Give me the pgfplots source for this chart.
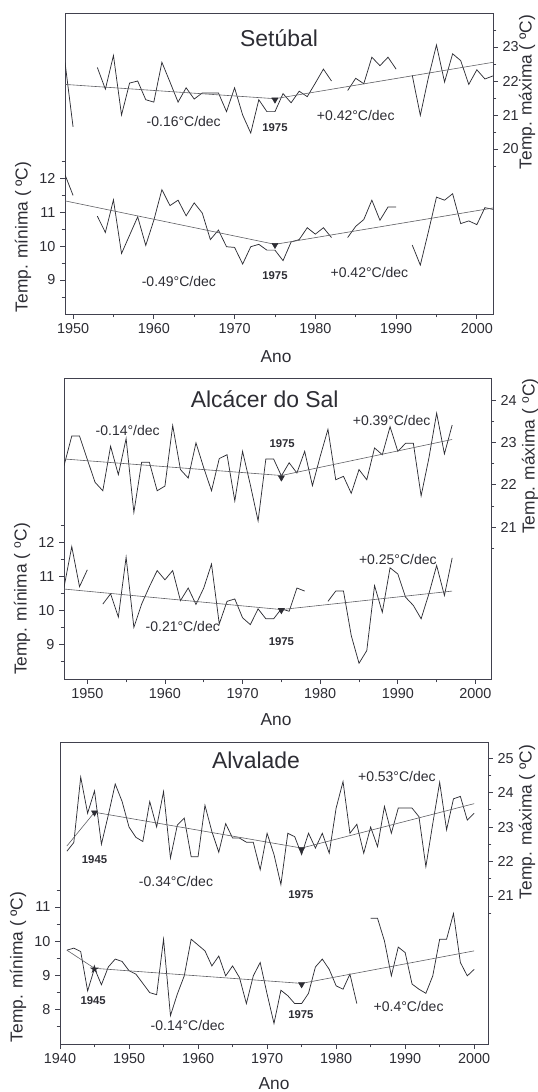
\documentclass[border=0pt]{standalone}
\usepackage{fontspec}
\setmainfont{Liberation Sans}
\newfontfamily\dejavu{DejaVu Sans}
\usepackage{pgfplots}
\pgfplotsset{compat=1.18}
\definecolor{ink}{RGB}{45,45,52}
\definecolor{axc}{RGB}{65,65,78}
\definecolor{trendc}{RGB}{95,95,100}

\tikzset{
  ann/.style={font=\fontsize{10.5}{12}\selectfont, text=ink},
  yr/.style={font=\fontsize{8.5}{10}\selectfont\bfseries, text=ink},
  ttl/.style={font=\fontsize{17.2}{20}\selectfont, text=ink},
  lab/.style={font=\fontsize{13}{15}\selectfont, text=ink},
}
\pgfplotsset{
  base/.style={
    scale only axis, anchor=south west,
    width=321pt, height=225.75pt,
    axis line style={axc, line width=0.7pt},
    every tick/.style={axc, line width=0.6pt},
    tick align=outside,
    major tick length=3.75pt, minor tick length=2.6pt,
    tick label style={font=\fontsize{10.8}{12}\selectfont, text=ink},
    unbounded coords=jump,
  },
  leftax/.style={base, xtick pos=left, ytick pos=left},
  rightax/.style={base, axis x line=none, axis y line*=right, ytick pos=right},
  datal/.style={ink, line width=0.55pt, mark=none},
  trendl/.style={trendc, line width=0.45pt, mark=none},
  tri/.style={only marks, mark=triangle*, mark size=2.6pt, mark options={rotate=180, fill=ink, draw=ink}},
}

\begin{document}
\begin{tikzpicture}
\path[use as bounding box] (0,0) rectangle (403.5pt,819pt);

% ================= Panel 1: Setubal =================
\begin{axis}[leftax, at={(48.75pt,583.5pt)},
  xmin=1949, xmax=2002, ymin=8, ymax=16.86,
  xtick={1950,1960,1970,1980,1990,2000}, xticklabels={1950,1960,1970,1980,1990,2000},
  minor xtick={1955,1965,1975,1985,1995},
  ytick={9,10,11,12}, yticklabels={9,10,11,12}, minor ytick={8.5,9.5,10.5,11.5,12.5}]
\addplot[datal] table {
x y
1949 12.10
1950 11.49
1951 nan
1953 10.88
1954 10.40
1955 11.36
1956 9.78
1957 10.32
1958 10.86
1959 10.02
1960 10.76
1961 11.66
1962 11.19
1963 11.35
1964 10.89
1965 11.27
1966 10.97
1967 10.19
1968 10.47
1969 9.98
1970 9.96
1971 9.47
1972 9.98
1973 10.05
1974 9.88
1975 9.88
1976 9.57
1977 10.12
1978 10.19
1979 10.54
1980 10.35
1981 10.54
1982 10.25
1983 nan
1984 10.25
1985 10.58
1986 10.78
1987 11.35
1988 10.76
1989 11.15
1990 11.15
1991 nan
1992 10.03
1993 9.44
1994 10.42
1995 11.44
1996 11.35
1997 11.54
1998 10.66
1999 10.74
2000 10.63
2001 11.13
2002 11.08
};
\addplot[trendl] coordinates {(1949,11.33) (1975,10.05) (2002,11.12)};
\addplot[tri] coordinates {(1975,10.03)};
\node[ttl] at (rel axis cs:0.5,0.917) {Setúbal};
\node[ann] at (1963.1,8.95) {-0.49°C/dec};
\node[yr] at (1975,9.12) {1975};
\node[ann] at (1986.7,9.21) {+0.42°C/dec};
\end{axis}
\begin{axis}[rightax, at={(48.75pt,583.5pt)},
  xmin=1949, xmax=2002, ymin=15.15, ymax=24.0,
  ytick={20,21,22,23}, yticklabels={20,21,22,23}, minor ytick={19.5,20.5,21.5,22.5,23.5}]
\addplot[datal] table {
x y
1949 22.55
1950 20.65
1951 nan
1953 22.40
1954 21.76
1955 22.75
1956 21.00
1957 21.94
1958 22.00
1959 21.45
1960 21.38
1961 22.55
1962 21.97
1963 21.38
1964 21.80
1965 21.47
1966 21.65
1967 21.65
1968 21.65
1969 21.10
1970 21.80
1971 21.00
1972 20.47
1973 21.45
1974 21.10
1975 21.10
1976 21.63
1977 21.36
1978 21.70
1979 21.54
1980 21.94
1981 22.35
1982 22.00
1983 nan
1984 21.72
1985 22.08
1986 21.92
1987 22.70
1988 22.45
1989 22.70
1990 22.35
1991 nan
1992 22.17
1993 20.99
1994 22.10
1995 23.06
1996 21.97
1997 22.80
1998 22.60
1999 21.90
2000 22.33
2001 22.06
2002 22.15
};
\addplot[trendl] coordinates {(1949,21.90) (1975,21.48) (2002,22.55)};
\addplot[tri] coordinates {(1975,21.45)};
\node[ann] at (1963.7,20.80) {-0.16°C/dec};
\node[yr] at (1975,20.62) {1975};
\node[ann] at (1985,21.0) {+0.42°C/dec};
\end{axis}
\node[lab, rotate=90] at (17.25pt,641.25pt) {Temp. mínima ( ºC)};
\node[lab, rotate=90] at (395.25pt,750pt) {Temp. máxima ( ºC)};
\node[lab] at (207pt,551.25pt) {Ano};

% ================= Panel 2: Alcacer do Sal =================
\begin{axis}[leftax, at={(48pt,309.75pt)}, width=320.25pt,
  xmin=1947, xmax=2002, ymin=8, ymax=16.8,
  xtick={1950,1960,1970,1980,1990,2000}, xticklabels={1950,1960,1970,1980,1990,2000},
  minor xtick={1955,1965,1975,1985,1995},
  ytick={9,10,11,12}, yticklabels={9,10,11,12}, minor ytick={8.5,9.5,10.5,11.5,12.5}]
\addplot[datal] table {
x y
1947 10.68
1948 11.87
1949 10.70
1950 11.19
1951 nan
1952 10.19
1953 10.49
1954 9.81
1955 11.56
1956 9.51
1957 10.19
1958 10.70
1959 11.17
1960 10.90
1961 11.17
1962 10.29
1963 10.66
1964 10.18
1965 10.66
1966 11.36
1967 9.61
1968 10.27
1969 10.34
1970 9.79
1971 9.59
1972 10.05
1973 9.76
1974 9.76
1975 10.05
1976 9.98
1977 10.66
1978 10.57
1979 nan
1981 10.27
1982 10.57
1983 10.57
1984 9.27
1985 8.46
1986 8.83
1987 10.73
1988 9.95
1989 11.25
1990 11.07
1991 10.39
1992 10.15
1993 9.76
1994 10.49
1995 11.32
1996 10.44
1997 11.54
};
\addplot[trendl] coordinates {(1947,10.63) (1975,10.03) (1997,10.57)};
\addplot[tri] coordinates {(1975,10.01)};
\node[ttl] at (rel axis cs:0.47,0.93) {Alcácer do Sal};
\node[ann] at (1962.3,9.53) {-0.21°C/dec};
\node[yr] at (1975,9.10) {1975};
\node[ann] at (1990,11.48) {+0.25°C/dec};
\end{axis}
\begin{axis}[rightax, at={(48pt,309.75pt)}, width=320.25pt,
  xmin=1947, xmax=2002, ymin=17.42, ymax=24.52,
  ytick={21,22,23,24}, yticklabels={21,22,23,24}, minor ytick={20.5,21.5,22.5,23.5}]
\addplot[datal] table {
x y
1947 22.45
1948 23.15
1949 23.15
1950 22.60
1951 22.06
1952 21.86
1953 22.91
1954 22.24
1955 23.09
1956 21.35
1957 22.53
1958 22.53
1959 21.86
1960 21.97
1961 23.40
1962 22.36
1963 22.16
1964 22.99
1965 22.40
1966 21.86
1967 22.62
1968 22.71
1969 21.62
1970 22.79
1971 22.00
1972 21.15
1973 22.61
1974 22.61
1975 22.21
1976 22.52
1977 22.28
1978 22.79
1979 21.98
1980 22.67
1981 23.31
1982 22.12
1983 22.20
1984 21.80
1985 22.36
1986 22.12
1987 22.87
1988 22.71
1989 23.37
1990 22.79
1991 22.98
1992 22.98
1993 21.74
1994 22.63
1995 23.69
1996 22.73
1997 23.41
};
\addplot[trendl] coordinates {(1947,22.61) (1975,22.22) (1997,23.07)};
\addplot[tri] coordinates {(1975,22.17)};
\node[ann] at (1955.2,23.27) {-0.14°/dec};
\node[yr] at (1975.1,22.98) {1975};
\node[ann] at (1989.2,23.51) {+0.39°C/dec};
\end{axis}
\node[lab, rotate=90] at (16.5pt,369.75pt) {Temp. mínima ( \textsuperscript{o}C)};
\node[lab, rotate=90] at (397.5pt,477pt) {Temp. máxima ( \textsuperscript{o}C)};
\node[lab] at (207pt,279pt) {Ano};

% ================= Panel 3: Alvalade =================
\begin{axis}[leftax, at={(45pt,36pt)}, height=226.5pt,
  xmin=1940, xmax=2002, ymin=7.0, ymax=15.82,
  xtick={1940,1950,1960,1970,1980,1990,2000}, xticklabels={1940,1950,1960,1970,1980,1990,2000},
  minor xtick={1945,1955,1965,1975,1985,1995},
  ytick={8,9,10,11}, yticklabels={8,9,10,11}, minor ytick={7.5,8.5,9.5,10.5,11.5}]
\addplot[datal] table {
x y
1941 9.74
1942 9.80
1943 9.70
1944 8.55
1945 9.21
1946 8.73
1947 9.25
1948 9.48
1949 9.41
1950 9.14
1951 9.04
1952 8.77
1953 8.50
1954 8.44
1955 10.06
1956 7.83
1957 8.46
1958 8.99
1959 10.06
1960 9.89
1961 9.72
1962 9.28
1963 9.57
1964 8.99
1965 9.28
1966 8.94
1967 8.18
1968 8.99
1969 9.38
1970 8.46
1971 7.60
1972 8.57
1973 8.41
1974 8.18
1975 8.18
1976 8.48
1977 9.25
1978 9.48
1979 9.18
1980 8.70
1981 8.60
1982 9.04
1983 8.18
1984 nan
1985 10.67
1986 10.67
1987 10.01
1988 8.99
1989 9.83
1990 9.67
1991 8.75
1992 8.60
1993 8.48
1994 8.99
1995 10.06
1996 10.06
1997 10.81
1998 9.38
1999 8.99
2000 9.18
};
\addplot[trendl] coordinates {(1941,9.74) (1945,9.21) (1975,8.77) (2000,9.72)};
\addplot[only marks, mark=text, text mark as node=true, text mark={★}, text mark style={font=\fontsize{9}{9}\selectfont\dejavu, text=ink, inner sep=0pt}] coordinates {(1945,9.19)};
\addplot[tri] coordinates {(1975,8.74)};
\node[ttl] at (rel axis cs:0.458,0.94) {Alvalade};
\node[yr] at (1944.8,8.28) {1945};
\node[ann] at (1958.5,7.53) {-0.14°C/dec};
\node[yr] at (1974.9,7.85) {1975};
\node[ann] at (1990.5,8.09) {+0.4°C/dec};
\end{axis}
\begin{axis}[rightax, at={(45pt,36pt)}, height=226.5pt,
  xmin=1940, xmax=2002, ymin=16.7, ymax=25.47,
  ytick={21,22,23,24,25}, yticklabels={21,22,23,24,25}, minor ytick={20.5,21.5,22.5,23.5,24.5}]
\addplot[datal] table {
x y
1941 22.30
1942 22.55
1943 24.45
1944 23.40
1945 24.05
1946 22.50
1947 23.35
1948 24.25
1949 23.74
1950 23.00
1951 22.70
1952 22.58
1953 23.74
1954 23.00
1955 24.03
1956 22.10
1957 23.06
1958 23.26
1959 22.14
1960 22.14
1961 23.63
1962 22.87
1963 22.27
1964 23.10
1965 22.68
1966 22.68
1967 22.56
1968 22.56
1969 21.76
1970 22.82
1971 22.20
1972 21.33
1973 22.82
1974 22.72
1975 22.20
1976 22.82
1977 22.39
1978 22.82
1979 22.24
1980 23.55
1981 24.32
1982 22.82
1983 23.08
1984 22.24
1985 23.00
1986 22.43
1987 23.60
1988 22.82
1989 23.55
1990 23.55
1991 23.55
1992 23.30
1993 21.85
1994 23.10
1995 24.30
1996 22.92
1997 23.82
1998 23.89
1999 23.20
2000 23.40
};
\addplot[trendl] coordinates {(1941,22.45) (1945,23.43) (1975,22.39) (2000,23.68)};
\addplot[tri] coordinates {(1945,23.42) (1975,22.35)};
\node[yr] at (1945,22.05) {1945};
\node[ann] at (1956.8,21.43) {-0.34°C/dec};
\node[yr] at (1974.9,21.03) {1975};
\node[ann] at (1988.8,24.47) {+0.53°C/dec};
\end{axis}
\node[lab, rotate=90] at (13.5pt,93.75pt) {Temp. mínima ( ºC)};
\node[lab, rotate=90] at (395.25pt,202.5pt) {Temp. máxima ( ºC)};
\node[lab] at (205.5pt,6pt) {Ano};
\end{tikzpicture}
\end{document}
